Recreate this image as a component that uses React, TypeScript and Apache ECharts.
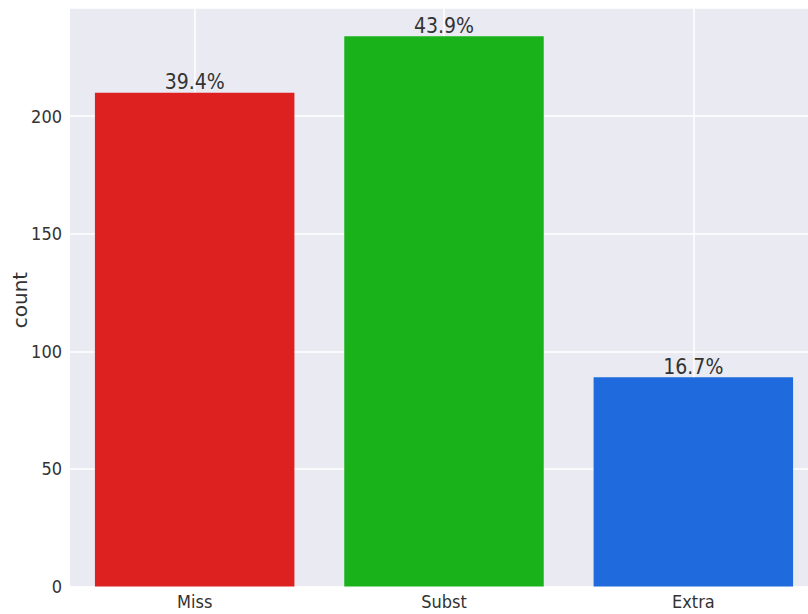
import React, { useEffect, useRef } from "react";
import * as echarts from "echarts";

const categories = ["Miss", "Subst", "Extra"];
const counts = [210, 234, 89];
const barColors = ["#DD2020", "#1AB21A", "#1F6BDD"];
const yTicks = { min: 0, max: 246, interval: 50 };
const yAxisTitle = "count";

const NARROW = "'DejaVu Sans Condensed', 'Liberation Sans Narrow', 'DejaVu Sans', sans-serif";

export default function App() {
  const ref = useRef<HTMLDivElement>(null);
  useEffect(() => {
    if (!ref.current) return;
    const chart = echarts.init(ref.current, undefined, { renderer: "svg" });
    const total = counts.reduce((a, b) => a + b, 0);
    chart.setOption({
      animation: false,
      grid: {
        left: 70,
        right: -10,
        top: 8,
        bottom: 27.5,
        show: true,
        backgroundColor: "#EAEAF2",
        borderWidth: 0,
        containLabel: false,
        outerBoundsMode: "none",
      },
      graphic: [
        {
          type: "text",
          x: 20,
          y: 300,
          rotation: Math.PI / 2,
          style: {
            text: yAxisTitle,
            fill: "#333",
            fontSize: 20,
            fontFamily: "'DejaVu Sans', sans-serif",
            align: "center",
            verticalAlign: "middle",
          },
        },
      ],
      xAxis: {
        type: "category",
        data: categories,
        axisLine: { show: false },
        axisTick: { show: false },
        axisLabel: { color: "#333", fontSize: 18, fontFamily: NARROW, margin: 6 },
        splitLine: { show: false },
      },
      yAxis: {
        type: "value",
        min: yTicks.min,
        max: yTicks.max,
        interval: yTicks.interval,
        axisLine: { show: false },
        axisTick: { show: false },
        axisLabel: { color: "#333", fontSize: 18, fontFamily: NARROW, margin: 8, showMaxLabel: false },
        splitLine: { show: true, lineStyle: { color: "#FFFFFF", width: 1.5 } },
      },
      series: [
        {
          type: "line",
          data: [],
          z: 1,
          silent: true,
          markLine: {
            z: 1,
            silent: true,
            symbol: "none",
            label: { show: false },
            lineStyle: { color: "#FFFFFF", width: 1.5, type: "solid" },
            data: categories.map((c) => ({ xAxis: c })),
          },
        },
        {
          type: "bar",
          z: 3,
          barCategoryGap: "20%",
          data: counts.map((v, i) => ({ value: v, itemStyle: { color: barColors[i] } })),
          label: {
            show: true,
            position: "top",
            distance: 0,
            color: "#333",
            fontSize: 21,
            fontFamily: NARROW,
            formatter: (p: any) => ((p.value / total) * 100).toFixed(1) + "%",
          },
        },
      ],
    });
    return () => chart.dispose();
  }, []);
  return (
    <div
      ref={ref}
      style={{ position: "fixed", left: 0, top: 0, width: 808, height: 614, background: "#fff" }}
    />
  );
}
